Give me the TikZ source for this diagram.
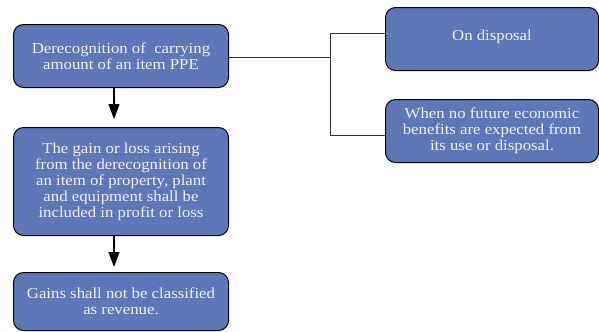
\documentclass[tikz,border=0pt]{standalone}
\usepackage{fontspec}
\usetikzlibrary{arrows.meta}
\setmainfont[FakeStretch=1.1]{Liberation Serif}
\definecolor{boxblue}{RGB}{94,119,185}
\definecolor{txt}{RGB}{240,240,245}
\begin{document}
\begin{tikzpicture}[x=1bp,y=-1bp,
  box/.style={draw=black,line width=1bp,fill=boxblue,rounded corners=10bp,
    text=txt,align=center,font=\fontsize{15.3}{16}\selectfont,inner sep=0pt,
    minimum width=215bp,anchor=north west},
  conn/.style={draw=black!80,line width=0.9bp},
  arr/.style={draw=black,line width=1.1bp,-{Triangle[length=15bp,width=11bp]}}]
\useasboundingbox (0,0) rectangle (599,331);
\node[box,minimum height=63bp] (b1) at (13,24) {Derecognition of \ carrying\\amount of an item PPE};
\node[box,minimum height=108bp] (b2) at (13,127) {The gain or loss arising\\from the derecognition of\\an item of property, plant\\and equipment shall be\\included in profit or loss};
\node[box,minimum height=58bp] (b3) at (13,272) {Gains shall not be classified\\as revenue.};
\node[box,minimum width=213bp,minimum height=63bp,text depth=7bp] (r1) at (385,7) {On disposal};
\node[box,minimum width=213bp,minimum height=63bp] (r2) at (385,99) {When no future economic\\benefits are expected from\\its use or disposal.};
\coordinate (j) at (330,57);
\coordinate (jt) at (330,33);
\coordinate (jb) at (330,135);
\coordinate (a1s) at (114,87);
\coordinate (a1e) at (114,119);
\coordinate (a2s) at (114,235);
\coordinate (a2e) at (114,267);
\draw[conn] (b1.east |- j) -- (j);
\draw[conn] (r1.west |- jt) -- (jt) -- (jb) -- (r2.west |- jb);
\draw[arr] (b1.south -| a1s) -- (a1e);
\draw[arr] (b2.south -| a2s) -- (a2e);
\end{tikzpicture}
\end{document}
